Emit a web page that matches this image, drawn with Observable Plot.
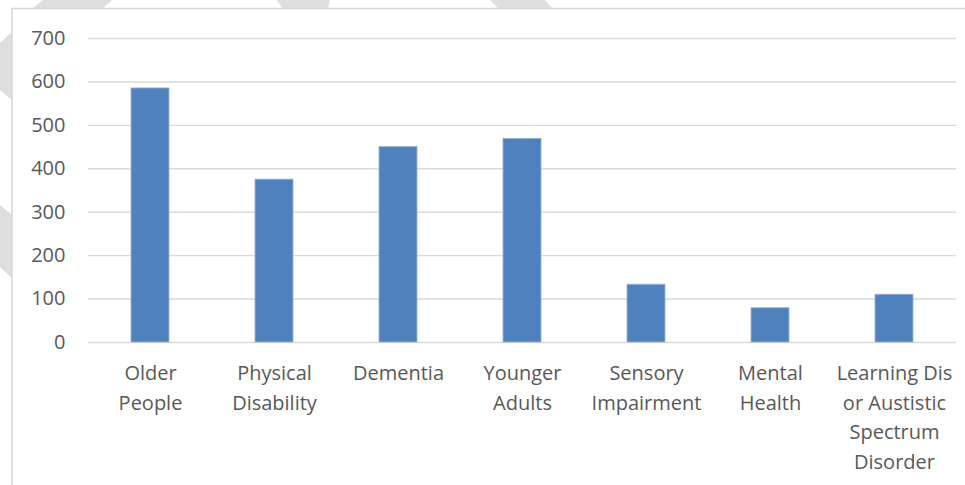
<!DOCTYPE html>
<html>
<head>
<meta charset="utf-8">
<script src="https://cdn.jsdelivr.net/npm/d3@7"></script>
<script src="https://cdn.jsdelivr.net/npm/@observablehq/plot@0.6"></script>
<style>
  html, body { margin: 0; padding: 0; background: #ffffff; }
  #wrap { position: relative; width: 965px; height: 485px; overflow: hidden; }
  #wrap > svg { position: absolute; left: 0; top: 0; }
</style>
</head>
<body>
<div id="wrap"></div>
<script>
// Care groups and their counts
const categories = [
  "Older People",
  "Physical Disability",
  "Dementia",
  "Younger Adults",
  "Sensory Impairment",
  "Mental Health",
  "Learning Dis or Austistic Spectrum Disorder"
];
const values = [585, 375, 450, 469, 133, 79, 110];
const tickLabels = [
  "Older\nPeople",
  "Physical\nDisability",
  "Dementia",
  "Younger\nAdults",
  "Sensory\nImpairment",
  "Mental\nHealth",
  "Learning Dis\nor Austistic\nSpectrum\nDisorder"
];
const yTicks = [0, 100, 200, 300, 400, 500, 600, 700];

const data = categories.map((c, i) => ({category: c, value: values[i]}));
const labelOf = new Map(categories.map((c, i) => [c, tickLabels[i]]));

const W = 965, H = 485;
const wrap = document.getElementById("wrap");

// Background layer: faint watermark fragments and the chart-area frame
const bg = d3.create("svg").attr("width", W).attr("height", H);
const shapes = [
  [[33, 8], [43, 0], [112, 0], [103, 8]],
  [[277, 0], [330, 0], [328, 8], [282, 8]],
  [[490, 0], [545, 0], [552, 8], [498, 8]],
  [[0, 43], [12, 32], [12, 100], [0, 90]],
  [[0, 205], [12, 215], [12, 278], [0, 267]]
];
bg.selectAll("polygon").data(shapes).join("polygon")
  .attr("points", d => d.map(p => p.join(",")).join(" "))
  .attr("fill", "#dedede");
bg.append("rect")
  .attr("x", 12).attr("y", 8.5).attr("width", W).attr("height", H)
  .attr("fill", "#ffffff").attr("stroke", "#d9d9d9").attr("stroke-width", 1.6);
wrap.appendChild(bg.node());

const chart = Plot.plot({
  width: W,
  height: H,
  marginLeft: 88,
  marginRight: 9,
  marginTop: 38,
  marginBottom: 143,
  style: {
    fontFamily: "'Open Sans', 'Noto Sans', sans-serif",
    fontSize: "20px",
    color: "#595959",
    background: "transparent"
  },
  x: {domain: categories, paddingInner: 0.694, paddingOuter: 0.347},
  y: {domain: [0, 700]},
  marks: [
    Plot.gridY(yTicks, {stroke: "#d9d9d9", strokeOpacity: 1, strokeWidth: 1.4}),
    Plot.barY(data, {
      x: "category",
      y: "value",
      fill: "#4f81bd",
      stroke: "#9cb6da",
      strokeWidth: 0.8
    }),
    Plot.axisY(yTicks, {
      tickSize: 0,
      tickPadding: 23,
      fontSize: 20,
      color: "#595959",
      label: null
    }),
    Plot.axisX({
      tickSize: 0,
      tickPadding: 17,
      fontSize: 20,
      lineHeight: 1.47,
      color: "#595959",
      tickFormat: d => labelOf.get(d),
      label: null
    })
  ]
});
wrap.appendChild(chart);
</script>
</body>
</html>
